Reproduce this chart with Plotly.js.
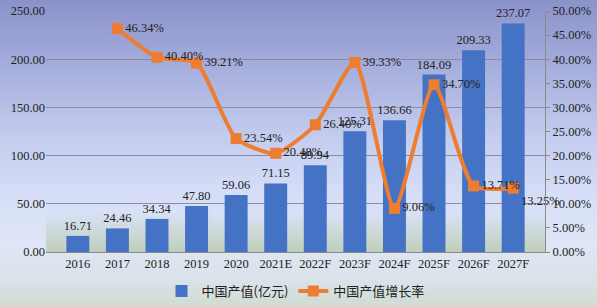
<!DOCTYPE html>
<html>
<head>
<meta charset="utf-8">
<script src="https://cdn.plot.ly/plotly-3.0.1.min.js"></script>
<style>
html,body{margin:0;padding:0;}
#wrap{position:relative;width:597px;height:307px;overflow:hidden;
background:linear-gradient(to bottom,#8a92cb 0%,#a6aedc 22%,#c4cdef 45%,#d7dff8 65%,#dfe6f6 80%,#d9e2e6 92%,#d0dbd2 100%);}
#band{position:absolute;left:46px;top:212px;width:499px;height:40px;
background:linear-gradient(to bottom,rgba(205,220,210,0) 0%,rgba(180,198,168,0.75) 100%);}
#chart{position:absolute;left:0;top:0;width:597px;height:307px;}
</style>
</head>
<body>
<div id="wrap"><div id="band"></div><div id="chart"></div></div>
<script>
const categories = ['2016','2017','2018','2019','2020','2021E','2022F','2023F','2024F','2025F','2026F','2027F'];
const outputValues = [16.71,24.46,34.34,47.80,59.06,71.15,89.94,125.31,136.66,184.09,209.33,237.07];
const growthRates = [null,46.34,40.40,39.21,23.54,20.48,26.40,39.33,9.06,34.70,13.71,13.25];
const seriesNames = ['中国产值(亿元)','中国产值增长率'];

const rateTextPos = ['middle right','middle right','middle right','middle right','middle right','middle right','middle right','middle right','middle right','middle right','middle right','bottom right'];

const serif = 'Liberation Serif, Times New Roman, serif';
const cjk = 'Noto Sans CJK SC, sans-serif';

const traces = [
  {
    type:'bar', x:categories, y:outputValues, name:seriesNames[0],
    marker:{color:'#4472c4'},
    text:outputValues.map(v=>v.toFixed(2)), textposition:'outside', constraintext:'none',
    textfont:{family:serif,size:12.5,color:'#222'}, cliponaxis:false,
    hoverinfo:'skip'
  },
  {
    type:'scatter', mode:'lines+markers+text', x:categories, y:growthRates, name:seriesNames[1],
    yaxis:'y2', line:{color:'#ed7d31',width:4,shape:'spline',smoothing:0.6},
    marker:{symbol:'square',size:11,color:'#ed7d31'},
    text:growthRates.map(v=>v===null?'':v.toFixed(2)+'%'), textposition:rateTextPos,
    textfont:{family:serif,size:12.5,color:'#222'}, cliponaxis:false,
    connectgaps:false, hoverinfo:'skip'
  }
];

const layout = {
  width:597, height:307,
  margin:{l:46,r:52,t:11,b:55,autoexpand:false},
  paper_bgcolor:'rgba(0,0,0,0)', plot_bgcolor:'rgba(0,0,0,0)',
  bargap:0.42,
  showlegend:true,
  legend:{orientation:'h',x:0.5,xanchor:'center',y:-0.1,yanchor:'top',
    font:{family:cjk,size:13,color:'#222'},bgcolor:'rgba(0,0,0,0)'},
  xaxis:{type:'category',tickfont:{family:serif,size:12.5,color:'#222'},
    showline:true,linecolor:'#8a8a8a',linewidth:1,ticks:'',showgrid:false,fixedrange:true},
  yaxis:{range:[0,250],dtick:50,tickformat:'.2f',tickfont:{family:serif,size:12.5,color:'#222'},
    showgrid:true,gridcolor:'#8c8c9c',gridwidth:1,zeroline:false,showline:false,ticks:'',fixedrange:true},
  yaxis2:{range:[0,50],dtick:5,tickformat:'.2f',ticksuffix:'%',overlaying:'y',side:'right',
    tickfont:{family:serif,size:12.5,color:'#222'},showgrid:false,zeroline:false,
    showline:true,linecolor:'#8a8a8a',linewidth:1,ticks:'outside',ticklen:4,tickcolor:'#8a8a8a',fixedrange:true}
};

Plotly.newPlot('chart',traces,layout,{displayModeBar:false,staticPlot:true});
</script>
</body>
</html>
